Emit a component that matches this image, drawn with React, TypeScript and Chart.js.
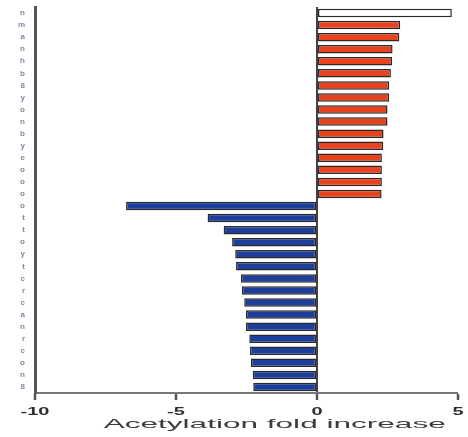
import React, { useEffect, useRef } from "react";
import { Chart, registerables } from "chart.js";

Chart.register(...registerables);

const labels: string[] = [
  "n", "m", "a", "n", "h", "b", "8", "y", "o", "n", "b", "y", "e", "o", "o", "o",
  "o", "t", "t", "o", "y", "t", "c", "r", "c", "a", "n", "r", "c", "o", "n", "8",
];

const foldIncrease: number[] = [
  4.78, 2.95, 2.92, 2.68, 2.66, 2.62, 2.56, 2.56, 2.5, 2.5, 2.36, 2.35, 2.3, 2.3, 2.3, 2.29,
  -6.77, -3.88, -3.31, -3.01, -2.9, -2.87, -2.7, -2.66, -2.58, -2.52, -2.52, -2.4, -2.38, -2.34, -2.28, -2.26,
];

const xTicks: number[] = [-10, -5, 0, 5];
const xTitle = "Acetylation fold increase";

const HIGHLIGHT_COLOR = "#ffffff";
const UP_COLOR = "#e8431e";
const DOWN_COLOR = "#1d3e9a";

// draws the x tick labels and title horizontally stretched, like the source image
const stretchedXText = {
  id: "stretchedXText",
  afterDraw(chart: any) {
    const ctx = chart.ctx as CanvasRenderingContext2D;
    const x = chart.scales.x;
    const base = x.top;
    ctx.save();
    ctx.fillStyle = "#2e2e2e";
    ctx.font = "bold 10px 'Liberation Sans', Arial, sans-serif";
    ctx.textAlign = "center";
    ctx.textBaseline = "middle";
    for (const v of xTicks) {
      const px = x.getPixelForValue(v);
      ctx.save();
      ctx.translate(px, base + 19);
      ctx.scale(2, 1);
      ctx.fillText(String(v), 0, 0);
      ctx.restore();
    }
    ctx.fillStyle = "#3c3c3c";
    ctx.font = "13px 'Liberation Sans', Arial, sans-serif";
    const w = ctx.measureText(xTitle).width;
    const sx = 342 / w;
    ctx.save();
    ctx.translate(x.getPixelForValue(-1.5), base + 31);
    ctx.scale(sx, 1);
    ctx.fillText(xTitle, 0, 0);
    ctx.restore();
    ctx.restore();
  },
};

export default function App() {
  const ref = useRef<HTMLCanvasElement | null>(null);

  useEffect(() => {
    if (!ref.current) return;
    const colors = foldIncrease.map((v, i) =>
      i === 0 ? HIGHLIGHT_COLOR : v >= 0 ? UP_COLOR : DOWN_COLOR
    );
    const chart = new Chart(ref.current, {
      type: "bar",
      data: {
        labels,
        datasets: [
          {
            data: foldIncrease,
            backgroundColor: colors,
            borderColor: "#2a2a2a",
            borderWidth: 1.5,
            borderSkipped: false,
            barPercentage: 0.7,
            categoryPercentage: 1,
          },
        ],
      },
      plugins: [stretchedXText],
      options: {
        indexAxis: "y",
        animation: false,
        responsive: true,
        maintainAspectRatio: false,
        layout: { padding: { top: 7, right: 10, left: 0, bottom: 0 } },
        plugins: { legend: { display: false }, tooltip: { enabled: false } },
        scales: {
          x: {
            type: "linear",
            min: -10,
            max: 5,
            afterBuildTicks: (scale: any) => {
              scale.ticks = xTicks.map((v) => ({ value: v }));
            },
            afterFit: (scale: any) => {
              scale.height = 44;
              scale.paddingLeft = 0;
              scale.paddingRight = 0;
            },
            border: { display: true, color: "#777777", width: 2 },
            grid: {
              drawOnChartArea: true,
              color: (ctx: any) => (ctx.tick && ctx.tick.value === 0 ? "#444444" : "rgba(0,0,0,0)"),
              lineWidth: (ctx: any) => (ctx.tick && ctx.tick.value === 0 ? 2 : 0),
              tickColor: "#555555",
              tickWidth: 2.5,
              tickLength: 7,
              drawTicks: true,
            },
            ticks: { display: false },
            title: { display: false },
          },
          y: {
            afterFit: (scale: any) => {
              scale.width = 35;
              scale.paddingTop = 0;
              scale.paddingBottom = 0;
            },
            border: { display: true, color: "#555555", width: 3 },
            grid: { display: false },
            ticks: {
              color: "#7d8aa0",
              font: { family: "Liberation Sans", size: 8, weight: "bold" },
              padding: 2,
              autoSkip: false,
            },
          },
        },
      },
    });
    return () => chart.destroy();
  }, []);

  return (
    <div style={{ position: "fixed", left: 0, top: 0, width: 468, height: 437, background: "#fff" }}>
      <canvas ref={ref} />
    </div>
  );
}
